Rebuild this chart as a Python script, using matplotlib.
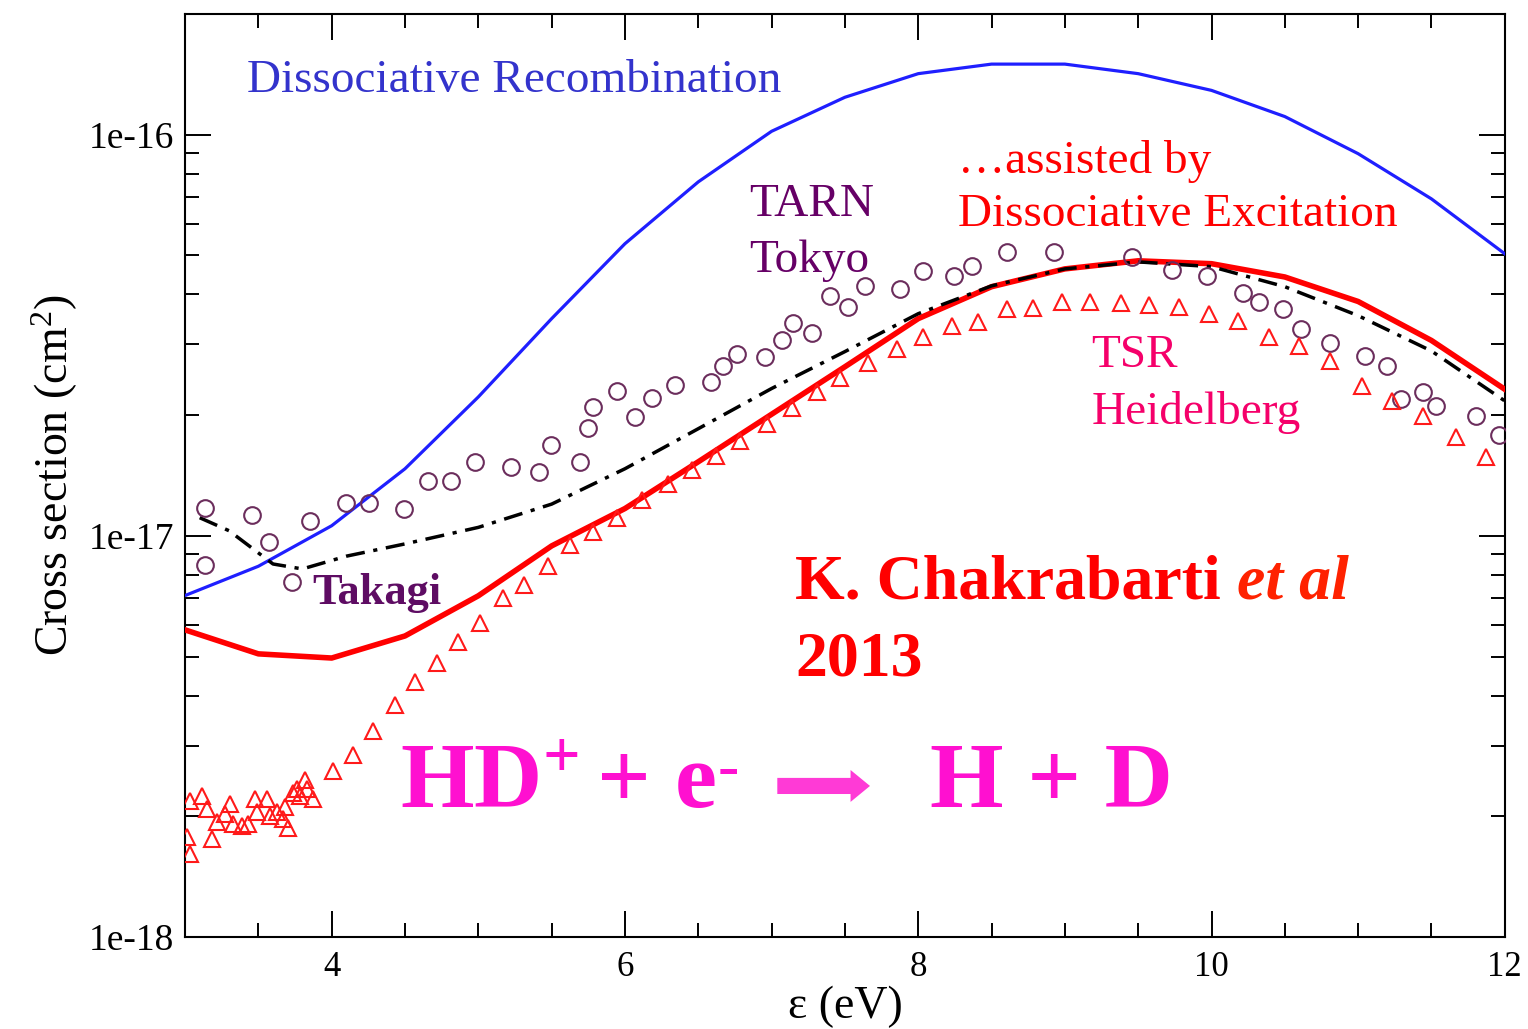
import numpy as np
import matplotlib
matplotlib.use('Agg')
import matplotlib.pyplot as plt
from matplotlib.ticker import FixedLocator, FixedFormatter, MultipleLocator, LogLocator, NullFormatter

plt.rcParams['font.family'] = ['Liberation Serif', 'DejaVu Serif']
plt.rcParams['mathtext.fontset'] = 'custom'
plt.rcParams['mathtext.rm'] = 'Liberation Serif'
plt.rcParams['mathtext.it'] = 'Liberation Serif:italic'
plt.rcParams['mathtext.bf'] = 'Liberation Serif:bold'

UNIT = 1e-17  # values below are in units of 1e-17 cm^2

# theory, 0.5 eV grid
e_grid = [3.0, 3.5, 4.0, 4.5, 5.0, 5.5, 6.0, 6.5, 7.0, 7.5, 8.0, 8.5, 9.0, 9.5,
          10.0, 10.5, 11.0, 11.5, 12.0]
dr_only = [0.71, 0.84, 1.06, 1.47, 2.22, 3.48, 5.35, 7.63, 10.2, 12.4, 14.2, 15.0,
           15.0, 14.2, 12.9, 11.1, 8.97, 6.92, 5.05]
dr_de = [0.583, 0.508, 0.496, 0.563, 0.709, 0.944, 1.17, 1.53, 2.01, 2.64, 3.48,
         4.18, 4.63, 4.85, 4.77, 4.42, 3.84, 3.07, 2.32]

# Takagi
takagi_e = [3.1, 3.3, 3.6, 3.8, 4.1, 4.5, 5.0, 5.5, 6.0, 6.5, 7.0, 7.5, 8.0, 8.5,
            9.0, 9.5, 10.0, 10.5, 11.0, 11.5, 12.0]
takagi = [1.11, 1.03, 0.851, 0.827, 0.89, 0.955, 1.05, 1.20, 1.47, 1.85, 2.33, 2.88,
          3.58, 4.20, 4.63, 4.82, 4.69, 4.18, 3.54, 2.89, 2.17]

# TARN Tokyo
tarn_e = [3.136, 3.136, 3.457, 3.573, 3.729, 3.852, 4.097, 4.254, 4.493, 4.656,
          4.813, 4.977, 5.222, 5.413, 5.495, 5.693, 5.747, 5.781, 5.945, 6.067,
          6.183, 6.340, 6.586, 6.667, 6.763, 6.954, 7.070, 7.145, 7.274, 7.397,
          7.519, 7.635, 7.874, 8.031, 8.242, 8.365, 8.603, 8.924, 9.455, 9.728,
          9.967, 10.212, 10.321, 10.485, 10.607, 10.805, 11.050, 11.200, 11.289,
          11.439, 11.528, 11.807, 11.964]
tarn = [1.174, 0.847, 1.128, 0.966, 0.768, 1.090, 1.209, 1.209, 1.168, 1.371,
        1.371, 1.530, 1.486, 1.444, 1.686, 1.530, 1.859, 2.097, 2.299, 1.980,
        2.209, 2.380, 2.421, 2.654, 2.844, 2.795, 3.082, 3.397, 3.21, 3.968,
        3.724, 4.202, 4.130, 4.58, 4.45, 4.71, 5.11, 5.11, 4.96, 4.61,
        4.45, 4.04, 3.83, 3.68, 3.28, 3.03, 2.81, 2.65, 2.196,
        2.286, 2.11, 1.99, 1.786]

# TSR Heidelberg
tsr_e = [3.014, 3.034, 3.034, 3.116, 3.150, 3.184, 3.218, 3.273, 3.307, 3.327,
         3.389, 3.429, 3.477, 3.491, 3.559, 3.579, 3.627, 3.668, 3.682, 3.702,
         3.736, 3.763, 3.784, 3.818, 3.832, 3.873, 4.009, 4.145, 4.282, 4.431,
         4.568, 4.718, 4.861, 5.011, 5.168, 5.311, 5.474, 5.624, 5.781, 5.945,
         6.115, 6.292, 6.456, 6.620, 6.783, 6.967, 7.138, 7.308, 7.465, 7.656,
         7.853, 8.031, 8.228, 8.406, 8.603, 8.781, 8.978, 9.169, 9.380, 9.571,
         9.776, 9.980, 10.178, 10.389, 10.594, 10.805, 11.023, 11.228, 11.439,
         11.664, 11.875]
tsr = [0.178, 0.161, 0.218, 0.225, 0.209, 0.176, 0.194, 0.203, 0.215, 0.191,
       0.189, 0.191, 0.221, 0.205, 0.221, 0.200, 0.205, 0.197, 0.211, 0.187,
       0.228, 0.234, 0.225, 0.246, 0.234, 0.221, 0.260, 0.284, 0.327, 0.379,
       0.433, 0.482, 0.544, 0.607, 0.700, 0.755, 0.842, 0.950, 1.023, 1.109,
       1.230, 1.348, 1.460, 1.583, 1.725, 1.902, 2.086, 2.286, 2.477, 2.701,
       2.927, 3.135, 3.340, 3.418, 3.68, 3.70, 3.83, 3.83, 3.81, 3.77,
       3.72, 3.58, 3.44, 3.14, 2.98, 2.73, 2.37, 2.17, 1.99,
       1.765, 1.574]

x_ticks = [4, 6, 8, 10, 12]
y_ticks = [1e-18, 1e-17, 1e-16]
y_tick_labels = ['1e-18', '1e-17', '1e-16']


def scaled(v):
    return np.array(v) * UNIT


fig = plt.figure(figsize=(15.28, 10.29), dpi=100)
ax = fig.add_axes([0.1211, 0.0894, 0.8637, 0.897])

ax.plot(e_grid, scaled(dr_only), color='#1f1fff', lw=2.3, zorder=3)
ax.plot(e_grid, scaled(dr_de), color='#ff0000', lw=4, zorder=3)
ax.plot(takagi_e, scaled(takagi), color='black', lw=2.5, dashes=(5.5, 2.5, 1.2, 2.5),
        zorder=3)
ax.plot(tarn_e, scaled(tarn), linestyle='none', marker='o', ms=12, mfc='none',
        mec='#6b2d5c', mew=1.5, zorder=4)
ax.plot(tsr_e, scaled(tsr), linestyle='none', marker='^', ms=11, mfc='none',
        mec='#ff1a1a', mew=1.5, zorder=4)

ax.set_yscale('log')
ax.set_xlim(3, 12)
ax.set_ylim(1e-18, 2e-16)

ax.xaxis.set_major_locator(FixedLocator(x_ticks))
ax.xaxis.set_minor_locator(MultipleLocator(0.5))
ax.yaxis.set_major_locator(FixedLocator(y_ticks))
ax.yaxis.set_major_formatter(FixedFormatter(y_tick_labels))
ax.yaxis.set_minor_locator(LogLocator(base=10, subs=range(2, 10)))
ax.yaxis.set_minor_formatter(NullFormatter())

ax.tick_params(which='both', direction='in', top=True, right=True, width=1.4)
ax.tick_params(which='major', length=19)
ax.tick_params(which='minor', length=10)
ax.tick_params(axis='x', labelsize=25, pad=10)
ax.tick_params(axis='y', labelsize=27, pad=8)
for s in ax.spines.values():
    s.set_linewidth(1.5)

ax.set_xlabel('ε (eV)', fontsize=33, labelpad=1)
ax.set_ylabel('Cross section (cm$^2$)', fontsize=33, labelpad=6)

# annotations
ax.text(3.42, 1.36e-16, 'Dissociative Recombination', fontsize=34, color='#3333cc',
        ha='left', va='center')
ax.text(6.85, 6.7e-17, 'TARN', fontsize=34, color='#660066', ha='left', va='center')
ax.text(6.85, 4.85e-17, 'Tokyo', fontsize=34, color='#660066', ha='left', va='center')
ax.text(8.27, 8.6e-17, '…assisted by', fontsize=34, color='#ff0000', ha='left', va='center')
ax.text(8.27, 6.3e-17, 'Dissociative Excitation', fontsize=34, color='#ff0000',
        ha='left', va='center')
ax.text(9.18, 2.82e-17, 'TSR', fontsize=34, color='#f5006a', ha='left', va='center')
ax.text(9.18, 2.03e-17, 'Heidelberg', fontsize=34, color='#f5006a', ha='left', va='center')
ax.text(3.866, 7.2e-18, 'Takagi', fontsize=32, fontweight='bold', color='#5e0c63',
        ha='left', va='center')

chak = ax.text(7.16, 7.6e-18, 'K. Chakrabarti ', fontsize=46, fontweight='bold',
               color='#ff0000', ha='left', va='center')
ax.annotate('et al', xy=(1, 0), xycoords=chak, ha='left', va='bottom', fontsize=46,
            fontweight='bold', fontstyle='italic', color='#ff2200')
ax.text(7.16, 4.9e-18, '2013', fontsize=46, fontweight='bold', color='#ff0000',
        ha='left', va='center')

# reaction
pink = '#ff10d0'
base = 2.11e-18
ax.text(4.466, base, 'HD$^{\\mathbf{+}}$', fontsize=68, fontweight='bold', color=pink,
        ha='left', va='baseline')
ax.text(5.808, base, '+', fontsize=68, fontweight='bold', color=pink,
        ha='left', va='baseline')
e_txt = ax.text(6.34, base, 'e', fontsize=68, fontweight='bold', color=pink,
                ha='left', va='baseline')
ax.annotate('-', xy=(1.02, 0.66), xycoords=e_txt, fontsize=46, fontweight='bold',
            color=pink, ha='left', va='center')
ax.annotate('', xy=(7.69, 2.38e-18), xytext=(7.02, 2.38e-18),
            arrowprops=dict(arrowstyle='simple,head_length=0.7,head_width=1.15,tail_width=0.58',
                            mutation_scale=20, color='#ff3ad6', lw=0))
ax.text(8.08, base, 'H + D', fontsize=68, fontweight='bold', color=pink,
        ha='left', va='baseline')

fig.savefig('out.png', dpi=100)
